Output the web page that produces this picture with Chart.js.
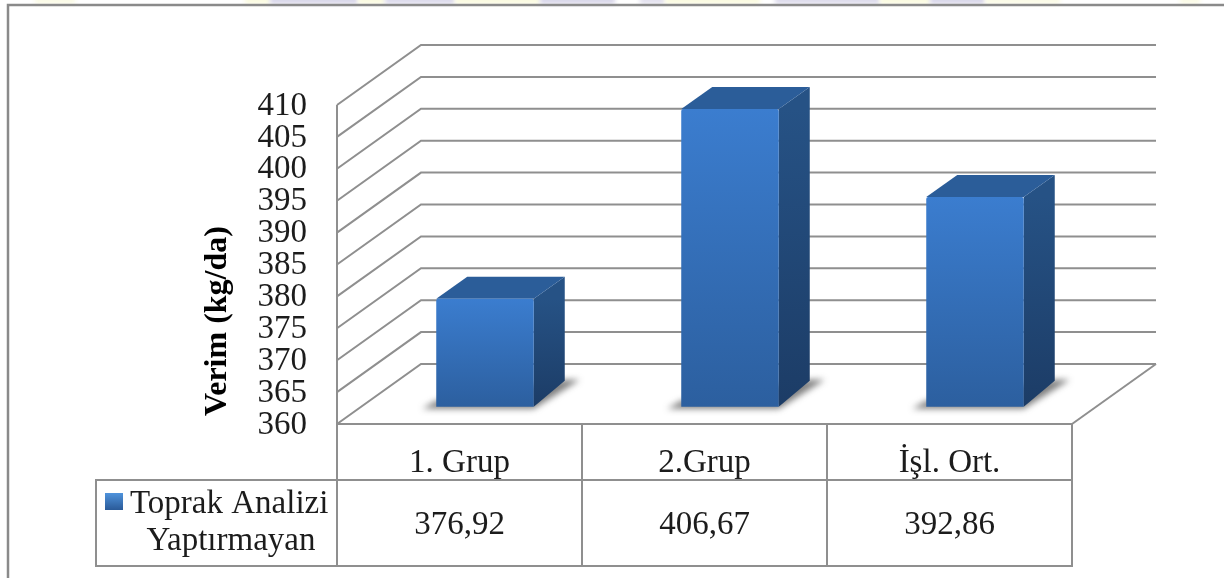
<!DOCTYPE html>
<html lang="tr">
<head>
<meta charset="utf-8">
<title>Verim</title>
<script src="https://cdn.jsdelivr.net/npm/chart.js@4"></script>
<style>
  html, body { margin: 0; padding: 0; background: #fff; }
  canvas { display: block; }
</style>
</head>
<body>
<canvas id="grafico" width="1224" height="578"></canvas>
<script>
const gruplar = ['1. Grup', '2.Grup', 'İşl. Ort.'];
const verim = [376.92, 406.67, 392.86];
const serieAdi = ['Toprak Analizi', 'Yaptırmayan'];
const eksenBasligi = 'Verim (kg/da)';
const eksenMin = 360;
const eksenMax = 410;
const eksenAdim = 5;

const FONT = '"Liberation Serif", "Times New Roman", serif';
const CIZGI = '#8f8f8f';
const YAZI = '#1c1c1c';

// perspective of the back wall and of the bars standing on the floor
const duvarDx = 84, duvarDy = 60, duvarSag = 1156;
const barDx = 25.5, barDy = -17.3;
const yanDx = 31, ustDy = 22, altDy = 26;

function virgullu(v) {
  return v.toFixed(2).replace('.', ',');
}

function cizgi(ctx, noktalar) {
  ctx.beginPath();
  noktalar.forEach(([x, y], i) => i ? ctx.lineTo(x, y) : ctx.moveTo(x, y));
  ctx.stroke();
}

function alan(ctx, noktalar, dolgu) {
  ctx.beginPath();
  noktalar.forEach(([x, y], i) => i ? ctx.lineTo(x, y) : ctx.moveTo(x, y));
  ctx.closePath();
  ctx.fillStyle = dolgu;
  ctx.fill();
}

const cerceve = {
  id: 'cerceve',
  beforeDraw(chart) {
    const { ctx } = chart;
    ctx.save();
    ctx.fillStyle = '#fff';
    ctx.fillRect(0, 0, chart.width, chart.height);
    // pale page print left above the frame
    ctx.save();
    ctx.filter = 'blur(2px)';
    [[35, 75, '#fbfbe6'], [245, 270, '#fbfbe0'], [270, 358, '#d9d7ea'], [358, 385, '#fbfbe0'],
     [385, 455, '#dcdaec'], [455, 540, '#fbfbe0'], [540, 615, '#d9d7ea'], [640, 665, '#e2e0ee'],
     [665, 760, '#fbfbe0'], [775, 880, '#dddbec'], [880, 930, '#fbfbe0'], [930, 985, '#d9d7ea'],
     [985, 1060, '#fbfbe6'], [1180, 1200, '#fbfbe6']].forEach(([a, b, renk]) => {
      ctx.fillStyle = renk;
      ctx.fillRect(a, -4, b - a, 8);
    });
    ctx.restore();
    ctx.strokeStyle = '#8a8a8a';
    ctx.lineWidth = 2.5;
    cizgi(ctx, [[8, chart.height], [8, 5], [chart.width, 5]]);
    ctx.restore();
  },
  beforeDatasetsDraw(chart) {
    // walls and gridlines follow the ticks of the value axis
    const { ctx, chartArea, scales } = chart;
    const sol = chartArea.left;
    ctx.save();
    ctx.strokeStyle = CIZGI;
    ctx.lineWidth = 2;
    scales.y.ticks.forEach((t, i) => {
      const y = scales.y.getPixelForTick(i);
      cizgi(ctx, [[sol, y], [sol + duvarDx, y - duvarDy], [duvarSag, y - duvarDy]]);
    });
    const alt = scales.y.getPixelForValue(eksenMin);
    cizgi(ctx, [[duvarSag, alt - duvarDy], [chartArea.right, alt]]);
    cizgi(ctx, [[sol, scales.y.getPixelForValue(eksenMax)], [sol, alt]]);
    ctx.restore();
  },
  beforeDatasetDraw(chart, args) {
    const { ctx, scales } = chart;
    ctx.save();
    ctx.translate(barDx, barDy);
    const taban = scales.y.getPixelForValue(eksenMin);
    args.meta.data.forEach(bar => {
      const sol = bar.x - bar.width / 2;
      const sag = bar.x + bar.width / 2;
      // contact shadow on the floor
      ctx.save();
      ctx.filter = 'blur(3px)';
      alan(ctx, [[sol - 14, taban + 2], [sag, taban + 2], [sag + yanDx + 15, taban - altDy - 1],
                 [sag + yanDx, taban - altDy - 1], [sol, taban - 6]], 'rgba(60,60,60,0.65)');
      ctx.restore();
      // side face
      const yan = ctx.createLinearGradient(0, bar.y, 0, taban);
      yan.addColorStop(0, '#265285');
      yan.addColorStop(1, '#1c3c66');
      alan(ctx, [[sag, bar.y], [sag + yanDx, bar.y - ustDy], [sag + yanDx, taban - altDy], [sag, taban]], yan);
      // top face
      alan(ctx, [[sol, bar.y], [sol + yanDx, bar.y - ustDy], [sag + yanDx, bar.y - ustDy], [sag, bar.y]], '#2b5d99');
    });
  },
  afterDatasetDraw(chart) {
    chart.ctx.restore();
  },
  afterDraw(chart) {
    // data table under the plot
    const { ctx, chartArea, scales } = chart;
    const sol = chartArea.left, sag = chartArea.right, ust = chartArea.bottom;
    const satir = 480, tabloAlt = 566, tabloSol = 96;
    ctx.save();
    ctx.strokeStyle = CIZGI;
    ctx.lineWidth = 2;
    cizgi(ctx, [[sol, ust], [sag, ust], [sag, tabloAlt], [tabloSol, tabloAlt], [tabloSol, satir], [sag, satir]]);
    cizgi(ctx, [[sol, ust], [sol, tabloAlt]]);
    for (let i = 1; i < gruplar.length; i++) {
      const x = sol + (sag - sol) * i / gruplar.length;
      cizgi(ctx, [[x, ust], [x, tabloAlt]]);
    }

    ctx.fillStyle = YAZI;
    ctx.font = '33px ' + FONT;
    ctx.textAlign = 'center';
    ctx.textBaseline = 'alphabetic';
    verim.forEach((v, i) => {
      ctx.fillText(virgullu(v), scales.x.getPixelForTick(i), 534);
    });
    ctx.fillText(serieAdi[1], 231, 550);
    ctx.textAlign = 'left';
    ctx.fillText(serieAdi[0], 130, 513);

    // legend key
    const anahtar = ctx.createLinearGradient(0, 493, 0, 510);
    anahtar.addColorStop(0, '#4f93dc');
    anahtar.addColorStop(1, '#2a5a98');
    ctx.fillStyle = anahtar;
    ctx.fillRect(105, 493, 18, 17);

    // axis title
    ctx.translate(218, 321);
    ctx.rotate(-Math.PI / 2);
    ctx.textAlign = 'center';
    ctx.textBaseline = 'middle';
    ctx.fillStyle = '#000';
    ctx.font = 'bold 32px ' + FONT;
    ctx.fillText(eksenBasligi, 0, 0);
    ctx.restore();
  }
};

new Chart(document.getElementById('grafico'), {
  type: 'bar',
  data: {
    labels: gruplar,
    datasets: [{
      label: serieAdi.join(' '),
      data: verim,
      base: eksenMin,
      clip: false,
      barPercentage: 0.398,
      categoryPercentage: 1,
      borderRadius: 2,
      borderSkipped: 'bottom',
      backgroundColor(c) {
        const { chartArea, scales } = c.chart;
        if (!chartArea || c.raw === undefined) return '#3470b8';
        const g = c.chart.ctx.createLinearGradient(0, scales.y.getPixelForValue(c.raw), 0, scales.y.getPixelForValue(eksenMin));
        g.addColorStop(0, '#3b7dcf');
        g.addColorStop(1, '#2c5f9f');
        return g;
      }
    }]
  },
  options: {
    responsive: false,
    animation: false,
    layout: { padding: { top: 105, right: 152, left: 0, bottom: 0 } },
    plugins: { legend: { display: false }, tooltip: { enabled: false } },
    scales: {
      x: {
        grid: { display: false, drawTicks: false },
        border: { display: false },
        ticks: { color: YAZI, font: { family: FONT, size: 33 }, padding: 20, maxRotation: 0, autoSkip: false },
        afterFit(s) { s.height = 154; }
      },
      y: {
        min: eksenMin,
        max: eksenMax,
        grid: { display: false, drawTicks: false },
        border: { display: false },
        ticks: { stepSize: eksenAdim, autoSkip: false, color: YAZI, font: { family: FONT, size: 33 }, padding: 30, labelOffset: 1 },
        afterFit(s) { s.width = 337; }
      }
    }
  },
  plugins: [cerceve]
});
</script>
</body>
</html>
